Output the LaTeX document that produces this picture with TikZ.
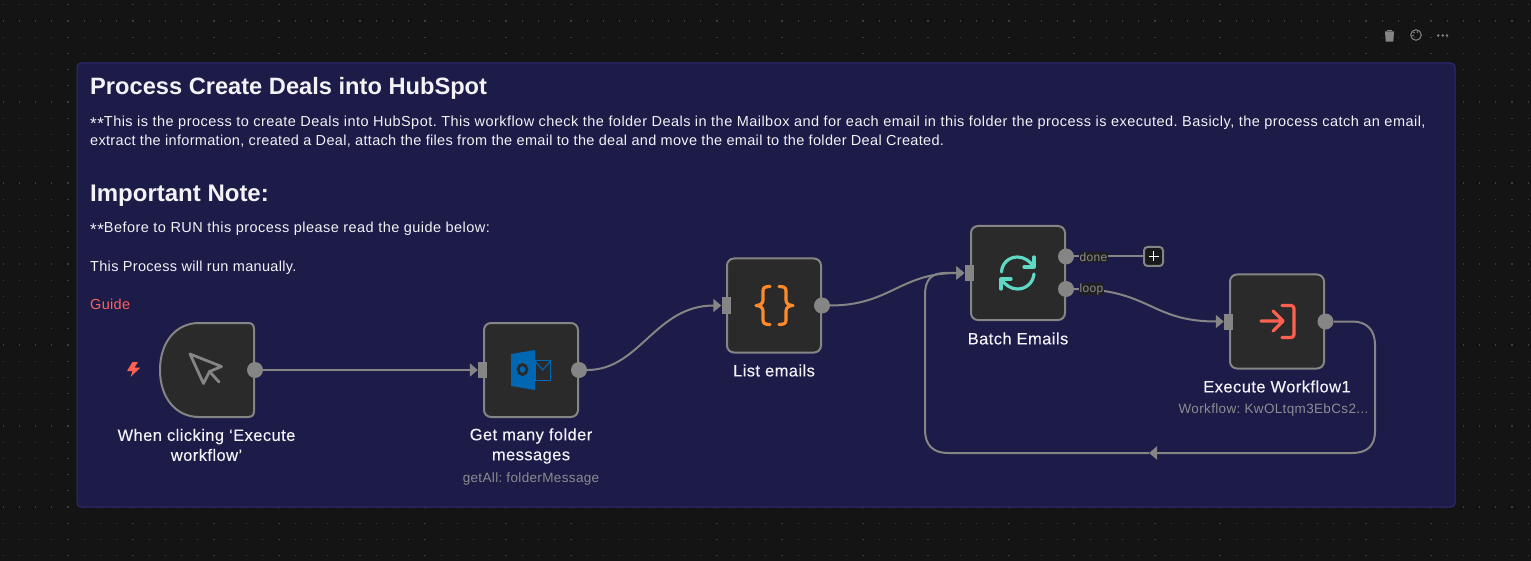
\documentclass[tikz,border=0pt]{standalone}
\usepackage{fontspec}
\usetikzlibrary{arrows.meta}
\setmainfont{Liberation Sans}
\newfontfamily\bodyfont[LetterSpace=2.6]{Liberation Sans}
\newfontfamily\widebody[LetterSpace=3.2]{Liberation Sans}
\newfontfamily\tightbody[LetterSpace=2.2]{Liberation Sans}
\newfontfamily\labelfont[LetterSpace=2.6,FakeBold=0.15]{Liberation Sans}
\newcommand{\lowstars}{\raisebox{-3pt}{\fontsize{17}{17}\selectfont **}}
\definecolor{canvasbg}{HTML}{141414}
\definecolor{griddot}{HTML}{3E3E3E}
\definecolor{stickybg}{HTML}{1D1B47}
\definecolor{stickyline}{HTML}{2E2C78}
\definecolor{nodefill}{HTML}{2A2A2A}
\definecolor{wire}{HTML}{858585}
\definecolor{lighttext}{HTML}{F2F2F7}
\definecolor{subtext}{HTML}{8C8C93}
\definecolor{guidered}{HTML}{FF6060}
\definecolor{tagbg}{HTML}{1F1F1F}
\definecolor{outblue}{HTML}{0068B2}
\definecolor{braceorange}{HTML}{FF8A2B}
\definecolor{loopteal}{HTML}{5FD8C4}
\definecolor{execred}{HTML}{FF6150}
\tikzset{
  wfbox/.style={draw=wire,fill=nodefill,line width=2pt,rounded corners=7pt,minimum size=94pt,inner sep=0pt},
  outport/.style={circle,fill=wire,minimum size=16pt,inner sep=0pt},
  inport/.style={rectangle,fill=wire,minimum width=9pt,minimum height=16pt,inner sep=0pt},
  wireline/.style={draw=wire,line width=2pt},
  tipped/.style={wireline,-{Triangle[length=8pt,width=13pt,fill=wire]}},
  nodelabel/.style={text=lighttext,align=center,font=\labelfont\fontsize{16.5}{20}\selectfont,inner sep=0pt},
  sublabel/.style={text=subtext,font=\frenchspacing\bodyfont\fontsize{13.5}{16}\selectfont,inner sep=0pt},
  stickytext/.style={text=lighttext,anchor=base west,inner sep=0pt,font=\frenchspacing\widebody\fontsize{14.5}{19}\selectfont},
  stickyshort/.style={text=lighttext,anchor=base west,inner sep=0pt,font=\frenchspacing\tightbody\fontsize{14.5}{19}\selectfont},
  stickyhead/.style={text=lighttext,anchor=base west,inner sep=0pt,font=\fontsize{24}{28}\selectfont\bfseries},
  looptag/.style={fill=tagbg,text=subtext,inner sep=0.5pt,font=\bodyfont\fontsize{12}{13}\selectfont},
  iconline/.style={line width=3.2pt,line cap=round,line join=round,rounded corners=3pt}
}
\begin{document}
\begin{tikzpicture}[x=1pt,y=-1pt]
\useasboundingbox (0,0) rectangle (1531,561);
\fill[canvasbg] (0,0) rectangle (1531,561);
\foreach \i in {0,...,94}{\foreach \j in {0,...,34}{
  \fill[griddot] ({3.1+16.225*\i-0.6},{4.8+16.2*\j-0.6}) rectangle +(1.2,1.2);
}}
% sticky
\node[draw=stickyline,fill=stickybg,line width=1pt,rounded corners=4pt,minimum width=1378pt,minimum height=444pt,inner sep=0pt] (sticky) at (766,285) {};
\node[stickyhead,font=\fontsize{23.65}{28}\selectfont\bfseries] (title) at (90,95) {Process Create Deals into HubSpot};
\node[stickytext] (l1) at (90,126.5) {\lowstars This is the process to create Deals into HubSpot. This workflow check the folder Deals in the Mailbox and for each email in this folder the process is executed. Basicly, the process catch an email,};
\node[stickyshort] (l2) at (90,145.5) {extract the information, created a Deal, attach the files from the email to the deal and move the email to the folder Deal Created.};
\node[stickyhead] (imp) at (90,202) {Important Note:};
\node[stickytext] (l3) at (90,232.5) {\lowstars Before to RUN this process please read the guide below:};
\node[stickyshort] (l4) at (90,271.5) {This Process will run manually.};
\node[stickyshort,text=guidered] (guide) at (90,309) {Guide};
% nodes
\path[draw=wire,fill=nodefill,line width=2pt] (199,323) -- (248,323) .. controls (252,323) and (254,325) .. (254,329) -- (254,411) .. controls (254,415) and (252,417) .. (248,417) -- (199,417) .. controls (176,417) and (160,398) .. (160,370) .. controls (160,342) and (176,323) .. (199,323) -- cycle;
\node[minimum size=94pt,inner sep=0pt] (trig) at (207,370) {};
\node[wfbox] (get) at (531,370) {};
\node[wfbox] (list) at (774,305.5) {};
\node[wfbox] (batch) at (1018,273) {};
\node[wfbox] (exec) at (1277,321.5) {};
% ports
\node[outport] (trigout) at (255,370) {};
\node[inport] (getin) at (482.5,370) {};
\node[outport] (getout) at (579,370) {};
\node[inport] (listin) at (726,305.5) {};
\node[outport] (listout) at (822,305.5) {};
\node[inport] (batchin) at (969,273) {};
\node[outport] (batchdone) at (1066,256.5) {};
\node[outport] (batchloop) at (1066,289) {};
\node[inport] (execin) at (1228.5,321.5) {};
\node[outport] (execout) at (1325.5,321.5) {};
\node[draw=wire,fill=tagbg!80!black,line width=2pt,rounded corners=3.5pt,minimum size=19pt,inner sep=0pt] (plus) at (1153.5,256.5) {};
\coordinate (loopmid) at (1149,453);
% connectors
\draw[tipped] (trigout) -- (getin.west);
\draw[tipped] (getout.east) .. controls (640,370) and (655,305.5) .. (listin.west);
\draw[tipped] (listout.east) .. controls (890,305.5) and (900,273) .. (batchin.west);
\draw[wireline] (batchdone.east) -- (plus.west);
\draw[tipped] (batchloop.east) .. controls (1150,289) and (1150,321.5) .. (execin.west);
\draw[tipped] (execout.east) -- (1352,321.5) .. controls (1367,321.5) and (1375,330) .. (1375,345) -- (1375,431) .. controls (1375,446) and (1367,453) .. (1352,453) -- (loopmid);
\draw[tipped] (loopmid) -- (948,453) .. controls (933,453) and (925,445) .. (925,430) -- (925,295) .. controls (925,280) and (931,273) .. (945,273) -- (batchin.west);
% port tags
\node[looptag] (donetag) at (1093.5,257) {done};
\node[looptag] (looptag) at (1091.5,289) {loop};
% labels
\node[nodelabel] (triglabel) at (206.5,445) {When clicking ‘Execute\\workflow’};
\node[nodelabel] (getlabel) at (531,446) {Get many folder\\messages};
\node[sublabel] (getsub) at (531,479.5) {getAll: folderMessage};
\node[nodelabel] (listlabel) at (774,370.5) {List emails};
\node[nodelabel] (batchlabel) at (1018,338.5) {Batch Emails};
\node[nodelabel] (execlabel) at (1277,386.5) {Execute Workflow1};
\node[sublabel] (execsub) at (1273.5,410.5) {Workflow: KwOLtqm3EbCs2...};
% plus glyph
\draw[white,line width=1.4pt] (1148.5,256.5) -- (1158.5,256.5) (1153.5,251.5) -- (1153.5,261.5);
% lightning
\fill[execred,rounded corners=0.6pt] (132.5,362) -- (127,371) -- (132.5,371) -- (130.5,377) -- (140.5,367.5) -- (134.5,367.5) -- (138,362) -- cycle;
% cursor icon
\draw[wire,line width=2.8pt,line join=round,line cap=round] (190,354) -- (221.5,366.5) -- (209.5,371.5) -- (203.5,383.5) -- cycle (210,372) -- (219,382);
% outlook icon
\draw[outblue,line width=1.1pt] (535,360.5) rectangle (550.5,380.5);
\draw[outblue,line width=1.1pt] (535,361) -- (542.7,370) -- (550.5,361);
\fill[outblue] (511,354) -- (535,350) -- (535,390) -- (511,386) -- cycle;
\draw[nodefill,line width=2.8pt] (522.5,369.5) ellipse [x radius=4.4,y radius=5];
% braces icon
\draw[braceorange,line width=3.2pt,line cap=round,line join=round] (770,286.5) .. controls (765,286.5) and (763,287.5) .. (763,291) -- (763,300) .. controls (763,303.5) and (760,305.5) .. (756,305.5) .. controls (760,305.5) and (763,307.5) .. (763,311) -- (763,320) .. controls (763,323.5) and (765,324.5) .. (770,324.5);
\draw[braceorange,line width=3.2pt,line cap=round,line join=round] (779,286.5) .. controls (784,286.5) and (786,287.5) .. (786,291) -- (786,300) .. controls (786,303.5) and (789,305.5) .. (793,305.5) .. controls (789,305.5) and (786,307.5) .. (786,311) -- (786,320) .. controls (786,323.5) and (784,324.5) .. (779,324.5);
% refresh icon
\draw[loopteal,line width=3.2pt,line cap=round,line join=round] (1001.5,272) .. controls (1002,263) and (1009,257) .. (1017.5,257) .. controls (1024,257) and (1030,261) .. (1034,267);
\draw[loopteal,line width=3.2pt,line cap=round,line join=round] (1034,274) .. controls (1033,283) and (1026,289) .. (1017.5,289) .. controls (1011,289) and (1005,285) .. (1001,279);
\draw[loopteal,line width=3.2pt,line cap=round,line join=round] (1034,257) -- (1034,267) -- (1024,267);
\draw[loopteal,line width=3.2pt,line cap=round,line join=round] (1001,289) -- (1001,279) -- (1011,279);
% execute icon
\draw[execred,line width=3.2pt,line cap=round,line join=round] (1261,321) -- (1283,321) (1273,311) -- (1283,321) -- (1273,331);
\draw[execred,iconline] (1282,305.5) -- (1294,305.5) -- (1294,337.5) -- (1282,337.5);
% toolbar icons
\fill[wire] (1385,31.5) -- (1394,31.5) -- (1393.3,41.7) -- (1385.7,41.7) -- cycle;
\fill[wire] (1387,30) rectangle (1392,31.5);
\draw[wire,line width=1pt] (1416,35) circle [radius=5.3];
\fill[wire] (1414,32.5) circle [radius=0.8] (1417.5,32) circle [radius=0.8] (1413,35.5) circle [radius=0.8];
\fill[wire] (1438.3,35.5) circle [radius=1.4] (1442.7,35.5) circle [radius=1.4] (1447,35.5) circle [radius=1.4];
\end{tikzpicture}
\end{document}
